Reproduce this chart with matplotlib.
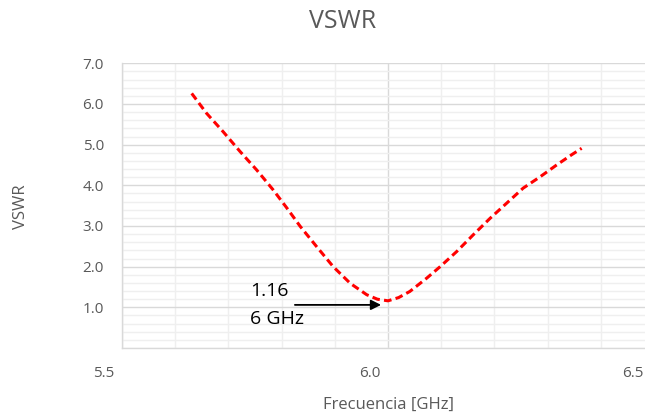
import matplotlib
matplotlib.use("Agg")
import matplotlib.pyplot as plt
import matplotlib.transforms as mtransforms
import numpy as np

# VSWR curve
freq_ghz = [5.631, 5.659, 5.690, 5.722, 5.753, 5.784, 5.810, 5.835, 5.866,
            5.897, 5.929, 5.960, 5.980, 6.000, 6.020, 6.041, 6.073, 6.098,
            6.129, 6.160, 6.192, 6.223, 6.254, 6.286, 6.317, 6.345, 6.364]
vswr = [6.26, 5.77, 5.32, 4.83, 4.38, 3.89, 3.44, 2.99, 2.49,
        2.00, 1.59, 1.31, 1.20, 1.16, 1.24, 1.39, 1.72, 2.00,
        2.37, 2.78, 3.19, 3.56, 3.93, 4.21, 4.50, 4.75, 4.91]

x_major = [5.5, 6.0, 6.5]
x_labels = ["5.5", "6.0", "6.5"]
y_major = [1, 2, 3, 4, 5, 6, 7]
y_labels = ["1.0", "2.0", "3.0", "4.0", "5.0", "6.0", "7.0"]

min_value = "1.16"
min_freq = "6 GHz"

GRAY = "#595959"
MAJ = "#d9d9d9"
MIN = "#efefef"

plt.rcParams["font.family"] = ["Open Sans", "DejaVu Sans"]

fig = plt.figure(figsize=(6.45, 4.18), dpi=100)
# plot area runs a little past the right edge of the picture, as in the original
ax = fig.add_axes([122 / 645, 1 - 348 / 418, 532 / 645, (348 - 63.3) / 418])

ax.set_xlim(5.5, 6.5)
ax.set_ylim(0, 7)

ax.set_xticks(x_major)
ax.set_xticklabels(x_labels)
ax.set_xticks(np.arange(5.5, 6.51, 0.1), minor=True)
ax.set_yticks(y_major)
ax.set_yticklabels(y_labels)
ax.set_yticks(np.arange(0, 7.01, 0.2), minor=True)

ax.grid(which="minor", color=MIN, linewidth=1.0)
ax.grid(which="major", color=MAJ, linewidth=1.0)
ax.set_axisbelow(True)

ax.tick_params(which="both", length=0, colors=GRAY, labelsize=11)
ax.tick_params(axis="y", pad=13)
ax.tick_params(axis="x", pad=13)

# Excel puts the x labels a little left of their gridline;
# the last one is nudged a bit more so it stays inside the picture
labs = ax.get_xticklabels()
for i, lab in enumerate(labs):
    dx = -18 if i < len(labs) - 1 else -21
    offset = mtransforms.ScaledTranslation(dx / 100, 0, fig.dpi_scale_trans)
    lab.set_transform(lab.get_transform() + offset)

for side in ["top", "right"]:
    ax.spines[side].set_visible(False)
for side in ["left", "bottom"]:
    ax.spines[side].set_color(MAJ)
    ax.spines[side].set_linewidth(1.0)

ax.plot(freq_ghz, vswr, color="#ff0000", linewidth=2.2,
        linestyle=(0, (2.5, 1.4)), solid_joinstyle="round")

# annotation for the minimum
ax.annotate("", xy=(5.987, 1.06), xytext=(5.825, 1.06),
            arrowprops=dict(arrowstyle="-|>", color="black", lw=1.3,
                            mutation_scale=15, shrinkA=0, shrinkB=0))
ax.text(5.7406, 1.405, min_value, fontsize=14, color="black",
        ha="left", va="center")
ax.text(5.7406, 0.717, min_freq, fontsize=14, color="black",
        ha="left", va="center")

fig.text(343 / 645, 1 - 22 / 418, "VSWR", fontsize=18, color=GRAY,
         ha="center", va="center")
fig.text(21 / 645, 1 - 207 / 418, "VSWR", fontsize=12, color=GRAY,
         ha="center", va="center", rotation=90)
fig.text(388 / 645, 1 - 405 / 418, "Frecuencia [GHz]", fontsize=12,
         color=GRAY, ha="center", va="center")

fig.savefig("out.png", dpi=100)
